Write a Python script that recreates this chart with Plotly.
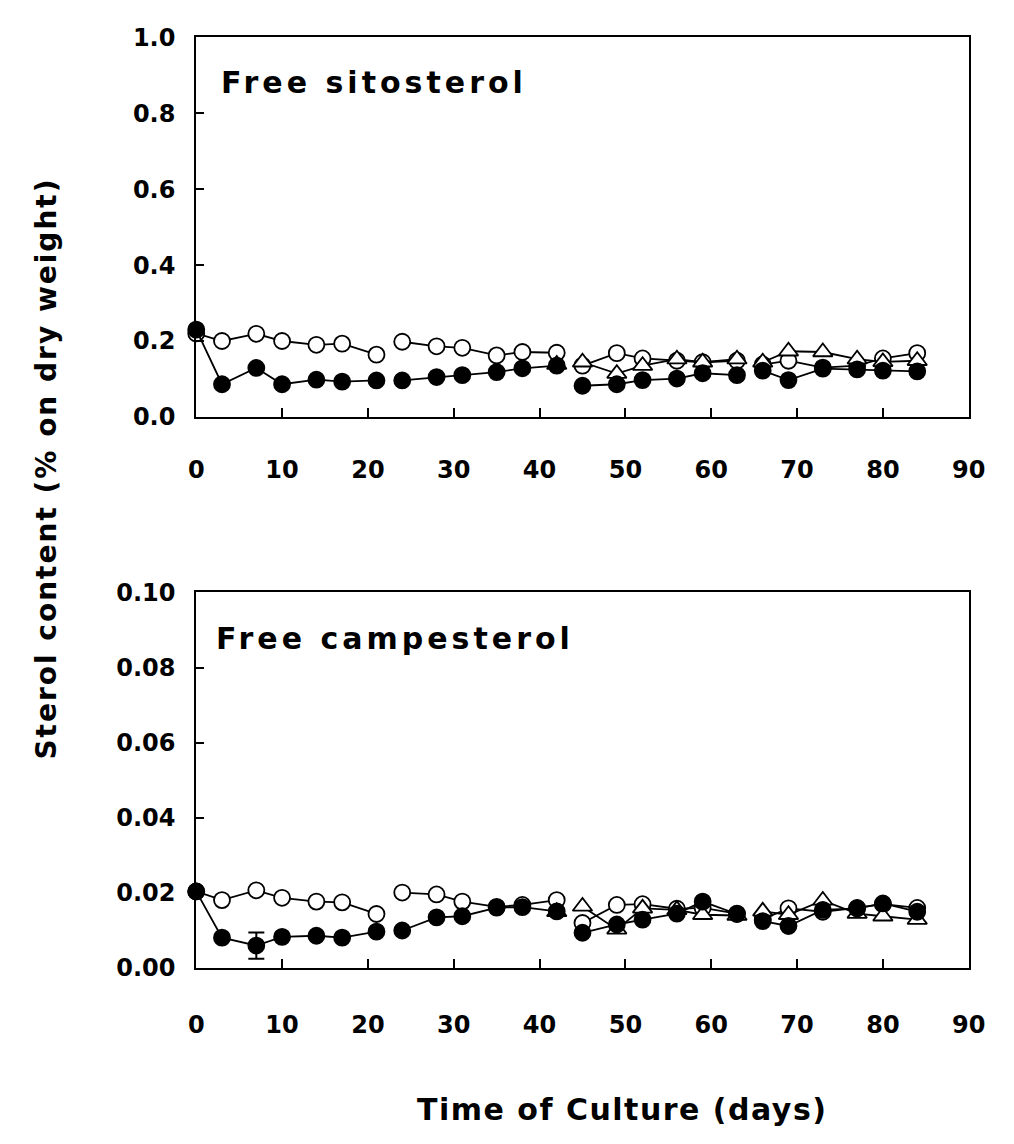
import plotly.graph_objects as go

# ---------------- data ----------------
days = [0, 3, 7, 10, 14, 17, 21, 24, 28, 31, 35, 38, 42, 45, 49, 52, 56, 59, 63, 66, 69, 73, 77, 80, 84]
culture = [1] * 7 + [2] * 6 + [3] * 6 + [4] * 6

sito_filled = [0.230, 0.086, 0.129, 0.086, 0.098, 0.093, 0.096,
               0.096, 0.105, 0.110, 0.118, 0.128, 0.135,
               0.082, 0.086, 0.097, 0.101, 0.115, 0.110,
               0.122, 0.097, 0.127, 0.125, 0.122, 0.120]
sito_open = [0.220, 0.200, 0.219, 0.200, 0.190, 0.193, 0.164,
             0.198, 0.186, 0.182, 0.162, 0.171, 0.169,
             0.135, 0.168, 0.154, 0.148, 0.144, 0.148,
             0.138, 0.148, 0.130, 0.135, 0.154, 0.168]
sito_tri = [None] * 12 + [0.138,
                          0.144, 0.114, 0.135, 0.152, 0.144, 0.152,
                          0.144, 0.173, 0.171, 0.152, 0.145, 0.148]

camp_filled = [0.0204, 0.0081, 0.0060, 0.0083, 0.0086, 0.0081, 0.0097,
               0.0100, 0.0135, 0.0138, 0.0161, 0.0162, 0.0151,
               0.0094, 0.0116, 0.0129, 0.0145, 0.0177, 0.0144,
               0.0125, 0.0112, 0.0155, 0.0159, 0.0172, 0.0150]
camp_filled_err = [None, None, 0.0035] + [None] * 22
camp_open = [0.0204, 0.0181, 0.0207, 0.0187, 0.0177, 0.0175, 0.0144,
             0.0201, 0.0196, 0.0177, 0.0163, 0.0168, 0.0181,
             0.0120, 0.0168, 0.0170, 0.0158, 0.0160, 0.0145,
             0.0130, 0.0159, 0.0150, 0.0160, 0.0170, 0.0160]
camp_tri = [None] * 12 + [0.0150,
                          0.0164, 0.0103, 0.0159, 0.0155, 0.0142, 0.0140,
                          0.0151, 0.0142, 0.0180, 0.0145, 0.0138, 0.0129]

x_ticks = [0, 10, 20, 30, 40, 50, 60, 70, 80, 90]
sito_ticks = [0.0, 0.2, 0.4, 0.6, 0.8, 1.0]
camp_ticks = [0.00, 0.02, 0.04, 0.06, 0.08, 0.10]

panel_titles = ["Free sitosterol", "Free campesterol"]
y_title = "Sterol content (% on dry weight)"
x_title = "Time of Culture (days)"

FONT = "DejaVu Sans"


def spaced(text, px):
    return f'<span style="letter-spacing:{px}px">{text}</span>'


def broken(xs, ys, segs, errs=None):
    """Insert None between culture periods so the lines break."""
    bx, by, be = [], [], []
    prev = None
    for i, (x, y, s) in enumerate(zip(xs, ys, segs)):
        if prev is not None and s != prev:
            bx.append(None)
            by.append(None)
            be.append(None)
        bx.append(x)
        by.append(y)
        be.append(errs[i] if errs else None)
        prev = s
    return bx, by, be


def add_series(fig, ys, xa, ya, symbol, fill, errs=None):
    bx, by, be = broken(days, ys, culture, errs)
    kw = {}
    if errs:
        kw["error_y"] = dict(type="data", array=be, visible=True,
                             color="black", thickness=2, width=8)
    fig.add_trace(go.Scatter(
        x=bx, y=by, xaxis=xa, yaxis=ya, mode="lines+markers",
        line=dict(color="black", width=1.8),
        marker=dict(symbol=symbol, size=16 if "circle" in symbol else 17,
                    color=fill, line=dict(color="black", width=1.8)),
        connectgaps=False, cliponaxis=False, showlegend=False, **kw))


fig = go.Figure()
for xa, ya, op, tr, fl, er in [("x", "y", sito_open, sito_tri, sito_filled, None),
                               ("x2", "y2", camp_open, camp_tri, camp_filled, camp_filled_err)]:
    add_series(fig, op, xa, ya, "circle", "white")
    add_series(fig, tr, xa, ya, "triangle-up", "white")
    add_series(fig, fl, xa, ya, "circle", "black", er)

W, H = 1014, 1144
xdom = [193 / W, 985 / W]
top_dom = [1 - 413 / H, 1 - 24 / H]
bot_dom = [1 - 978 / H, 1 - 593 / H]

tickfont = dict(family=FONT, size=24, color="black", weight="bold")
axis_common = dict(showline=True, linecolor="black", linewidth=2, mirror=True,
                   ticks="inside", tickwidth=2, tickcolor="black",
                   showgrid=False, zeroline=False, tickfont=tickfont)

fig.update_layout(
    width=W, height=H, autosize=False,
    margin=dict(l=0, r=0, t=0, b=0),
    paper_bgcolor="white", plot_bgcolor="white",
    xaxis=dict(domain=xdom, anchor="y", range=[0, 90], tickvals=x_ticks,
               ticklen=9, ticklabelstandoff=30, **axis_common),
    yaxis=dict(domain=top_dom, anchor="x", range=[0, 1.0], tickvals=sito_ticks,
               tickformat=".1f", ticklen=8, ticklabelstandoff=14, **axis_common),
    xaxis2=dict(domain=xdom, anchor="y2", range=[0, 90], tickvals=x_ticks,
                ticklen=9, ticklabelstandoff=34, **axis_common),
    yaxis2=dict(domain=bot_dom, anchor="x2", range=[0, 0.10], tickvals=camp_ticks,
                tickformat=".2f", ticklen=8, ticklabelstandoff=14, **axis_common),
    annotations=[
        dict(text=spaced(panel_titles[0], 4), x=216, y=H - 70, xref="paper", yref="paper",
             showarrow=False, xanchor="left", yanchor="middle",
             font=dict(family=FONT, size=30, color="black", weight="bold")),
        dict(text=spaced(panel_titles[1], 4), x=211, y=H - 640, xref="paper", yref="paper",
             showarrow=False, xanchor="left", yanchor="middle",
             font=dict(family=FONT, size=30, color="black", weight="bold")),
        dict(text=spaced(y_title, 2), x=40, y=H - 466, xref="paper", yref="paper",
             showarrow=False, textangle=-90, xanchor="center", yanchor="middle",
             font=dict(family=FONT, size=28, color="black", weight="bold")),
        dict(text=spaced(x_title, 1.5), x=630, y=H - 1123, xref="paper", yref="paper",
             showarrow=False, xanchor="center", yanchor="middle",
             font=dict(family=FONT, size=30, color="black", weight="bold")),
    ],
)
# convert pixel annotation positions to paper fractions
for a in fig.layout.annotations:
    a.x = a.x / W
    a.y = a.y / H

fig.write_html("out.html")
